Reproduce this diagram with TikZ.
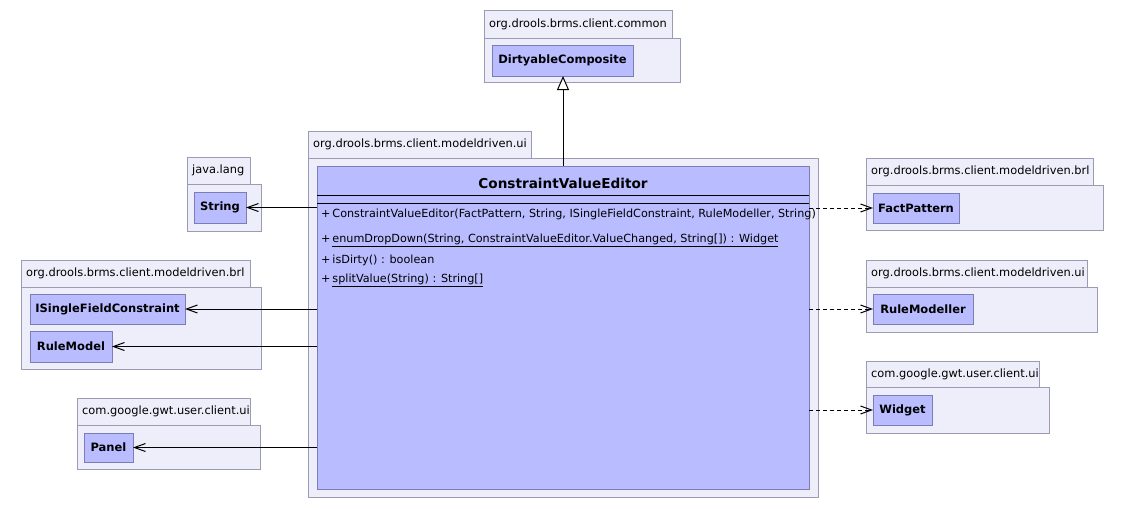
\documentclass[tikz,border=0pt]{standalone}
\usepackage{fontspec}
\setmainfont{DejaVu Sans}
\usetikzlibrary{arrows.meta}

\definecolor{pkgfill}{RGB}{238,238,250}
\definecolor{pkgline}{RGB}{155,155,180}
\definecolor{clsfill}{RGB}{185,188,255}
\definecolor{clsline}{RGB}{125,125,182}

\tikzset{
  pkgframe/.style={draw=pkgline, fill=pkgfill, line width=1pt, anchor=north west,
    inner sep=0pt, outer sep=0pt},
  pkglabel/.style={anchor=west, inner sep=0pt, xshift=5pt,
    font=\fontsize{11.4}{13}\selectfont},
  clsbox/.style={draw=clsline, fill=clsfill, line width=1pt, anchor=north west,
    inner sep=0pt, outer sep=0pt, font=\fontsize{11.5}{14}\selectfont\bfseries},
  member/.style={anchor=west, inner sep=0pt, font=\fontsize{11.2}{13}\selectfont},
  uses/.style={draw=black, line width=1pt, -{Straight Barb[length=11pt,width=8pt]}},
  dep/.style={uses, dash pattern=on 4pt off 3pt},
  inherit/.style={draw=black, line width=1pt,
    -{Triangle[open, fill=white, length=14pt, width=12pt]}},
}

% package: name, left, tab top, tab right, body top, body right, bottom, label
\newcommand\umlpkg[8]{%
  \node[pkgframe, minimum width={(#4-#2)*1pt}, minimum height={(#5-#3)*1pt}] (#1-tab) at (#2,#3) {};
  \node[pkgframe, minimum width={(#6-#2)*1pt}, minimum height={(#7-#5)*1pt}] (#1) at (#2,#5) {};
  \node[pkglabel] (#1-label) at (#1-tab.west) {#8};
}
% class: name, left, top, right, bottom, label
\newcommand\umlclass[6]{%
  \node[clsbox, minimum width={(#4-#2)*1pt}, minimum height={(#5-#3)*1pt}] (#1) at (#2,#3) {#6};
}

\begin{document}
\begin{tikzpicture}[x=1pt, y=-1pt]
  \fill[white] (0,0) rectangle (1126,509);
  \useasboundingbox (0,0) rectangle (1126,509);

  % packages
  \umlpkg{pcommon}{484}{10}{672}{38}{680}{82}{org.drools.brms.client.common}
  \umlpkg{pui}{308}{131}{531}{158}{818}{497}{org.drools.brms.client.modeldriven.ui}
  \umlpkg{plang}{187}{157}{250}{184}{261}{231}{java.lang}
  \umlpkg{pbrlL}{21}{260}{250}{287}{261}{369}{org.drools.brms.client.modeldriven.brl}
  \umlpkg{pgwtL}{77}{398}{250}{425}{260}{469}{com.google.gwt.user.client.ui}
  \umlpkg{pbrlR}{866}{158}{1093}{185}{1103}{230}{org.drools.brms.client.modeldriven.brl}
  \umlpkg{puiR}{866}{260}{1087}{287}{1097}{332}{org.drools.brms.client.modeldriven.ui}
  \umlpkg{pgwtR}{866}{361}{1039}{387}{1049}{433}{com.google.gwt.user.client.ui}

  % classes
  \umlclass{dc}{492}{45}{633}{76}{DirtyableComposite}
  \umlclass{str}{194}{192}{246}{223}{String}
  \umlclass{isfc}{30}{294}{185}{324}{ISingleFieldConstraint}
  \umlclass{rm}{30}{331}{112}{362}{RuleModel}
  \umlclass{panel}{84}{433}{133}{462}{Panel}
  \umlclass{fp}{873}{193}{959}{223}{FactPattern}
  \umlclass{rmod}{873}{294}{973}{324}{RuleModeller}
  \umlclass{wdg}{873}{395}{932}{425}{Widget}

  % main class
  \umlclass{cve}{317}{166}{809}{489}{}
  \node[inner sep=0pt, font=\fontsize{13.6}{16}\selectfont\bfseries] (cve-name) at (563,183) {ConstraintValueEditor};
  \coordinate (sepA) at (0,195);
  \coordinate (sepB) at (0,203);
  \draw[black, line width=0.9pt] (cve.west |- sepA) -- (cve.east |- sepA);
  \draw[black, line width=0.9pt] (cve.west |- sepB) -- (cve.east |- sepB);
  \node[member] (op-ctor) at (321,214) {+\,ConstraintValueEditor(FactPattern, String, ISingleFieldConstraint, RuleModeller, String)};
  \node[member] (op-enum) at (321,240) {+\,\underline{enumDropDown(String, ConstraintValueEditor.ValueChanged, String[]) : Widget}};
  \node[member] (op-dirty) at (321,260) {+\,isDirty() : boolean};
  \node[member] (op-split) at (321,280) {+\,\underline{splitValue(String) : String[]}};

  % connectors
  \draw[inherit] (cve.north) -- (cve.north |- dc.south);
  \draw[uses] (cve.west |- str.east) -- (str.east);
  \draw[uses] (cve.west |- isfc.east) -- (isfc.east);
  \draw[uses] (cve.west |- rm.east) -- (rm.east);
  \draw[uses] (cve.west |- panel.east) -- (panel.east);
  \draw[dep] (cve.east |- fp.west) -- (fp.west);
  \draw[dep] (cve.east |- rmod.west) -- (rmod.west);
  \draw[dep] (cve.east |- wdg.west) -- (wdg.west);
\end{tikzpicture}
\end{document}
